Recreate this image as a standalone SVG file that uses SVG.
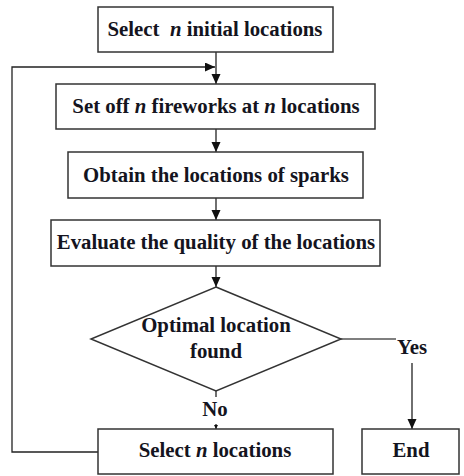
<svg xmlns="http://www.w3.org/2000/svg" width="464" height="476" viewBox="0 0 464 476">
<defs>
<style>
.box{fill:#fff;stroke:#333;stroke-width:1.5}
.t{font-family:"Liberation Serif","Times New Roman",serif;font-weight:bold;font-size:20.8px;fill:#141420;text-anchor:middle}
.i{font-style:italic}
.c{fill:none;stroke:#222;stroke-width:1.3}
.g{fill:none;stroke:#555;stroke-width:1.3}
</style>
<marker id="ah" markerUnits="userSpaceOnUse" markerWidth="10" markerHeight="10" refX="10" refY="4.5" orient="auto">
<path d="M0,0 L10,4.5 L0,9 z" fill="#111"/>
</marker>
<marker id="sm" markerUnits="userSpaceOnUse" markerWidth="5" markerHeight="5" refX="4" refY="2" orient="auto">
<path d="M0,0 L4,2 L0,4 z" fill="#111"/>
</marker>
</defs>
<g id="connectors">
<line class="c" x1="216" y1="52" x2="216" y2="84" marker-end="url(#ah)"/>
<line class="c" x1="216" y1="129" x2="216" y2="152" marker-end="url(#ah)"/>
<line class="c" x1="216" y1="198" x2="216" y2="220" marker-end="url(#ah)"/>
<line class="c" x1="216" y1="266" x2="216" y2="287" marker-end="url(#ah)"/>
<line class="c" x1="216" y1="391" x2="216" y2="397"/>
<line class="c" x1="216" y1="424" x2="216" y2="429" marker-end="url(#sm)"/>
<polyline class="g" points="341,339 396,339"/>
<line class="c" x1="412" y1="363" x2="412" y2="429" marker-end="url(#ah)"/>
<polyline class="c" points="98,452 12,452 12,67 215,67" marker-end="url(#ah)"/>
<text class="t" x="412" y="354">Yes</text>
<text class="t" x="215" y="416">No</text>
</g>
<g id="n1">
<rect class="box" x="98" y="7" width="235" height="45"/>
<text class="t" x="215" y="36" xml:space="preserve">Select  <tspan class="i">n</tspan> initial locations</text>
</g>
<g id="n2">
<rect class="box" x="56" y="84" width="319" height="45"/>
<text class="t" x="216" y="113">Set off <tspan class="i">n</tspan> fireworks at <tspan class="i">n</tspan> locations</text>
</g>
<g id="n3">
<rect class="box" x="68" y="152" width="295" height="46"/>
<text class="t" x="216" y="182">Obtain the locations of sparks</text>
</g>
<g id="n4">
<rect class="box" x="51" y="220" width="329" height="46"/>
<text class="t" x="216" y="249">Evaluate the quality of the locations</text>
</g>
<g id="n5">
<polygon class="box" points="216,287 341,339 216,391 91,339"/>
<text class="t" x="216" y="332">Optimal location</text>
<text class="t" x="216" y="358">found</text>
</g>
<g id="n6">
<rect class="box" x="98" y="429" width="235" height="45"/>
<text class="t" x="215" y="457">Select <tspan class="i">n</tspan> locations</text>
</g>
<g id="n7">
<rect class="box" x="362" y="429" width="97" height="45"/>
<text class="t" x="411" y="457">End</text>
</g>
</svg>
